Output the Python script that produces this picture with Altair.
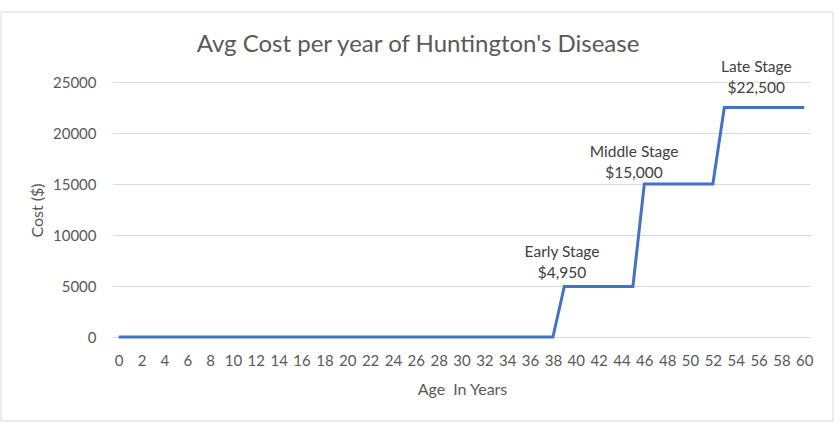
import altair as alt
import pandas as pd

# ---- data ----
ages = list(range(0, 61))
costs = [
    0, 0, 0, 0, 0, 0, 0, 0, 0, 0,
    0, 0, 0, 0, 0, 0, 0, 0, 0, 0,
    0, 0, 0, 0, 0, 0, 0, 0, 0, 0,
    0, 0, 0, 0, 0, 0, 0, 0, 0,
    4950, 4950, 4950, 4950, 4950, 4950, 4950,
    15000, 15000, 15000, 15000, 15000, 15000, 15000,
    22500, 22500, 22500, 22500, 22500, 22500, 22500, 22500,
]
stage_names = ["Early Stage", "Middle Stage", "Late Stage"]
stage_costs = ["$4,950", "$15,000", "$22,500"]
label_age = [38.8, 45.1, 55.8]
label_cost = [8350, 18150, 26500]
x_ticks = list(range(0, 61, 2))
y_ticks = [0, 5000, 10000, 15000, 20000, 25000]
title_text = "Avg Cost per year of Huntington's Disease"

df = pd.DataFrame({"age": ages, "cost": costs})
lab = pd.DataFrame({
    "age": label_age,
    "cost": label_cost,
    "text": [n + "\n" + c for n, c in zip(stage_names, stage_costs)],
})

FONT = "Lato"
GREY = "#595959"

W, H = 697, 255
PL, PT = 113, 82

x = alt.X(
    "age:Q",
    scale=alt.Scale(domain=[-0.5, 60.5], nice=False, zero=False),
    axis=alt.Axis(
        values=x_ticks, grid=False, ticks=False, domain=False,
        labelFlush=False, labelOverlap=False, labelPadding=16,
        labelFontSize=15, labelColor=GREY, labelFont=FONT,
        title="Age\u2002In Years", titleFont=FONT, titleFontSize=16,
        titleFontWeight="normal", titleColor=GREY,
        titleX=462 - PL, titleY=389 - (PT + H), titleBaseline="middle",
        titleAlign="center",
    ),
)
y = alt.Y(
    "cost:Q",
    scale=alt.Scale(domain=[0, 25000], nice=False),
    axis=alt.Axis(
        values=y_ticks, format="d", grid=True, gridColor="#d9d9d9", gridWidth=1,
        ticks=False, domain=False, labelPadding=17, labelFontSize=15,
        labelColor=GREY, labelFont=FONT,
        title="Cost ($)", titleFont=FONT, titleFontSize=16,
        titleFontWeight="normal", titleColor=GREY,
        titleX=37 - PL, titleY=210 - PT, titleAngle=-90,
        titleBaseline="middle", titleAlign="center",
    ),
)

line = alt.Chart(df).mark_line(color="#4472C4", strokeWidth=3).encode(x=x, y=y)

labels = alt.Chart(lab).mark_text(
    lineBreak="\n", align="center", baseline="middle", font=FONT,
    fontSize=15.5, color="#404040", lineHeight=21,
).encode(x=x, y=y, text="text:N")

one = pd.DataFrame({"t": [title_text]})

border = alt.Chart(one).mark_rect(
    fill=None, stroke="#d9d9d9", strokeWidth=1
).encode(
    x=alt.value(1 - PL), x2=alt.value(833 - PL),
    y=alt.value(12 - PT), y2=alt.value(421 - PT),
)

title = alt.Chart(one).mark_text(
    font=FONT, fontSize=24, color=GREY, align="center", baseline="middle",
).encode(x=alt.value(418 - PL), y=alt.value(45 - PT), text="t:N")

chart = alt.layer(border, line, labels, title).properties(
    width=W, height=H, background="white",
    autosize=alt.AutoSizeParams(type="none"),
    padding={"left": PL, "top": PT, "right": 840 - PL - W, "bottom": 426 - PT - H},
).configure_view(stroke=None).configure_axis(labelOverlap=False)

chart.save("out.html", embed_options={"renderer": "svg", "actions": False})
